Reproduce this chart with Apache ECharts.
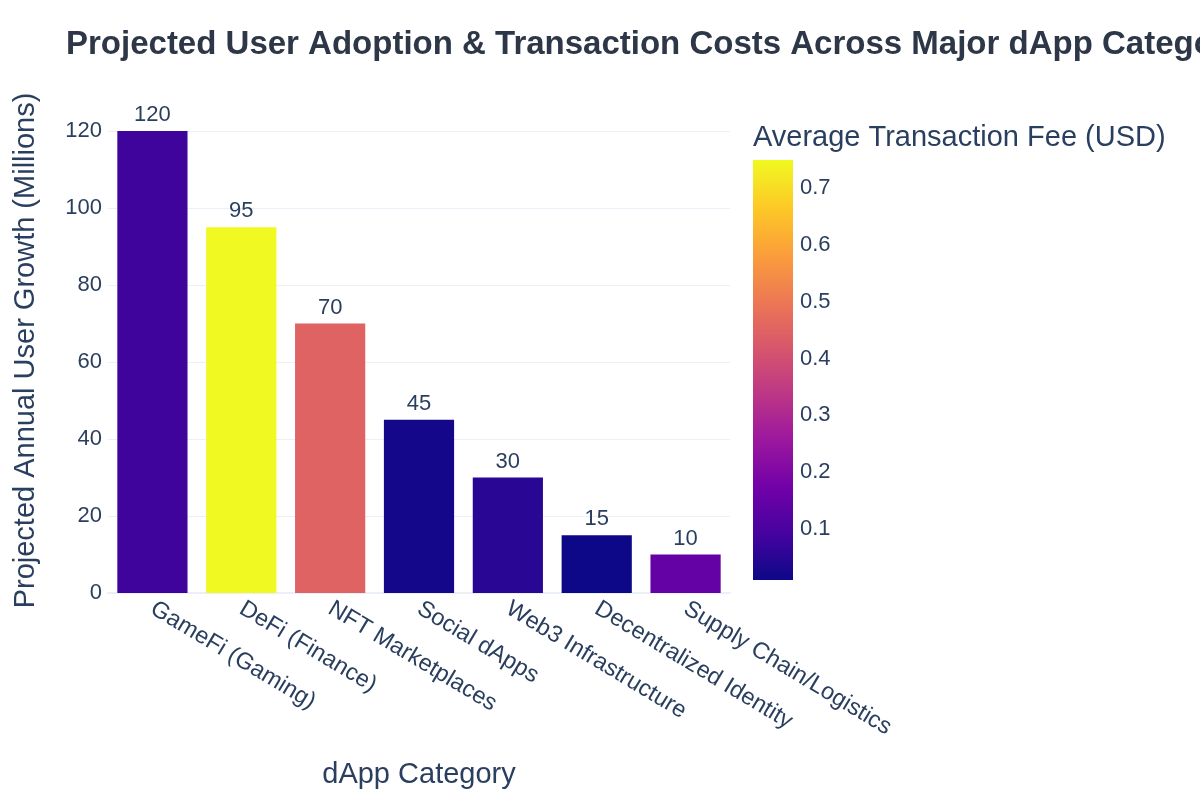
<!DOCTYPE html>
<html>
<head>
<meta charset="utf-8">
<script src="https://cdn.jsdelivr.net/npm/echarts@6/dist/echarts.min.js"></script>
<style>html,body{margin:0;padding:0;background:#fff;}#c{width:1200px;height:800px;}</style>
</head>
<body>
<div id="c"></div>
<script>
const categories = ["GameFi (Gaming)", "DeFi (Finance)", "NFT Marketplaces", "Social dApps", "Web3 Infrastructure", "Decentralized Identity", "Supply Chain/Logistics"];
const userGrowth = [120, 95, 70, 45, 30, 15, 10];
const avgFee = [0.08, 0.75, 0.45, 0.02, 0.05, 0.01, 0.15];
const feeMin = 0.01, feeMax = 0.75;
const feeTicks = [0.1, 0.2, 0.3, 0.4, 0.5, 0.6, 0.7];
const plasma = ["#0d0887","#46039f","#7201a8","#9c179e","#bd3786","#d8576b","#ed7953","#fb9f3a","#fdca26","#f0f921"];

const FONT = "Liberation Sans";
const TXT = "#2a3f5f";
const chart = echarts.init(document.getElementById('c'));
chart.setOption({
  backgroundColor: '#fff',
  animation: false,
  textStyle: { fontFamily: FONT, color: TXT },
  title: {
    text: 'Projected User Adoption & Transaction Costs Across Major dApp Categories',
    left: 61, top: 23,
    textStyle: { fontFamily: FONT, fontWeight: 'bold', fontSize: 33, color: '#2d3748' }
  },
  grid: [
    { left: 108, right: 470, top: 108, bottom: 207 },
    { left: 753, width: 40, top: 160, height: 420 }
  ],
  visualMap: {
    show: false, seriesIndex: 0, dimension: 2, min: feeMin, max: feeMax,
    inRange: { color: plasma }
  },
  xAxis: [
    {
      gridIndex: 0, type: 'category', data: categories,
      name: 'dApp Category', nameLocation: 'middle', nameGap: 167,
      nameTextStyle: { fontSize: 29, color: TXT, fontFamily: FONT },
      axisLine: { show: true, lineStyle: { color: '#ebf0f8', width: 2 } },
      axisTick: { show: false },
      axisLabel: { rotate: -31, fontSize: 23.5, color: TXT, fontFamily: FONT, margin: 14, interval: 0 }
    },
    { gridIndex: 1, type: 'category', data: ['fee'], show: false }
  ],
  yAxis: [
    {
      gridIndex: 0, type: 'value', min: 0, max: 126, interval: 20,
      name: 'Projected Annual User Growth (Millions)', nameLocation: 'middle', nameGap: 68,
      nameTextStyle: { fontSize: 29, color: TXT, fontFamily: FONT },
      axisLine: { show: false }, axisTick: { show: false },
      axisLabel: { fontSize: 22, color: TXT, fontFamily: FONT, margin: 6, showMaxLabel: false },
      splitLine: { lineStyle: { color: '#ebf0f8', width: 1 }, showMaxLine: false }
    },
    {
      gridIndex: 1, type: 'value', min: feeMin, max: feeMax, position: 'right',
      name: 'Average Transaction Fee (USD)', nameLocation: 'end', nameGap: 8,
      nameTextStyle: { fontSize: 29, color: TXT, fontFamily: FONT, align: 'left', padding: [0, 0, 0, -40] },
      axisLine: { show: false }, axisTick: { show: false }, splitLine: { show: false },
      axisLabel: {
        fontSize: 22, color: TXT, fontFamily: FONT, margin: 7,
        customValues: feeTicks, formatter: v => v.toFixed(1)
      }
    }
  ],
  series: [
    {
      type: 'bar', xAxisIndex: 0, yAxisIndex: 0,
      barCategoryGap: '21%',
      data: categories.map((c, i) => [c, userGrowth[i], avgFee[i]]),
      encode: { x: 0, y: 1 },
      label: { show: true, position: 'top', fontSize: 22, color: TXT, fontFamily: FONT, distance: 5 }
    },
    {
      type: 'bar', xAxisIndex: 1, yAxisIndex: 1, barWidth: '100%',
      data: [feeMax], silent: true,
      itemStyle: {
        color: new echarts.graphic.LinearGradient(0, 1, 0, 0,
          plasma.map((c, i) => ({ offset: i / (plasma.length - 1), color: c })))
      }
    }
  ]
});
</script>
</body>
</html>
